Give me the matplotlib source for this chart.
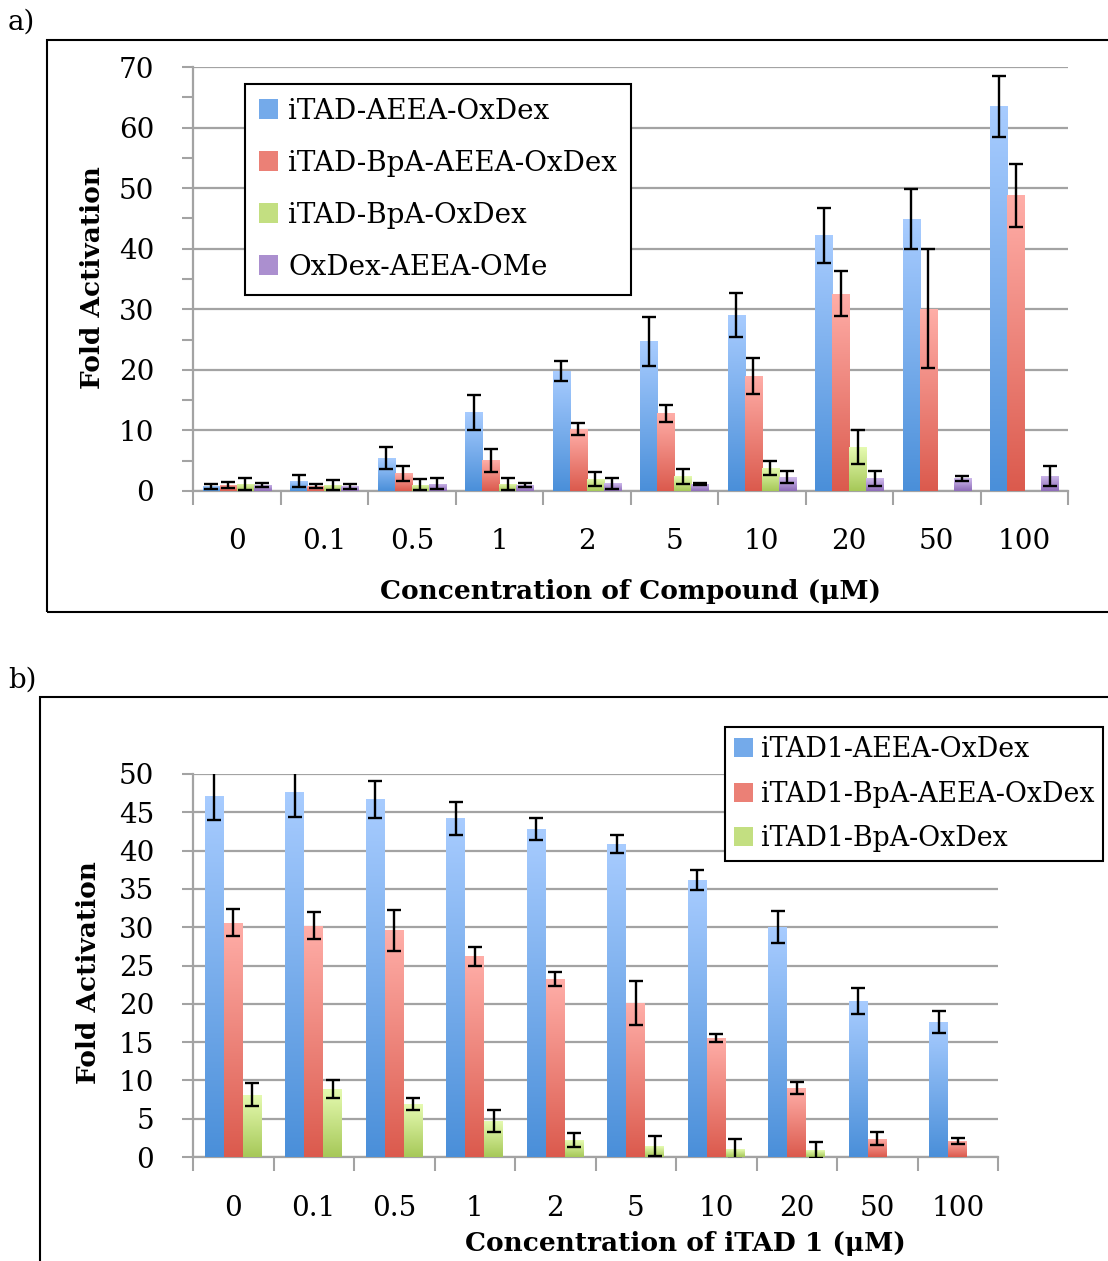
"""Fold activation bar charts (panels a and b), Excel-style gradient bars."""
import matplotlib

matplotlib.use("Agg")
import matplotlib.pyplot as plt
import numpy as np
from matplotlib.colors import LinearSegmentedColormap, to_rgb
from matplotlib.patches import Rectangle, Patch

plt.rcParams["font.family"] = ["DejaVu Serif"]

W, H = 1108, 1261

# ---- panel a data ----
conc_a = ["0", "0.1", "0.5", "1", "2", "5", "10", "20", "50", "100"]
a_names = ["iTAD-AEEA-OxDex", "iTAD-BpA-AEEA-OxDex", "iTAD-BpA-OxDex", "OxDex-AEEA-OMe"]
a_aeea = [0.8, 1.6, 5.4, 13.0, 19.8, 24.7, 29.1, 42.2, 44.9, 63.5]
a_aeea_err = [0.4, 1.0, 1.8, 2.9, 1.6, 4.0, 3.6, 4.5, 4.9, 5.0]
a_bpa_aeea = [1.0, 0.8, 2.9, 5.1, 10.2, 12.8, 19.0, 32.6, 30.1, 48.8]
a_bpa_aeea_err = [0.5, 0.3, 1.2, 1.9, 1.0, 1.4, 3.0, 3.7, 9.8, 5.2]
a_bpa = [1.2, 1.0, 1.0, 1.2, 2.0, 2.4, 3.8, 7.2, np.nan, np.nan]
a_bpa_err = [1.0, 0.8, 0.9, 1.0, 1.1, 1.2, 1.1, 2.8, np.nan, np.nan]
a_ome = [1.0, 0.8, 1.2, 1.0, 1.3, 1.2, 2.3, 2.1, 2.1, 2.5]
a_ome_err = [0.3, 0.4, 0.9, 0.3, 0.9, 0.2, 1.0, 1.2, 0.4, 1.7]

# ---- panel b data ----
conc_b = ["0", "0.1", "0.5", "1", "2", "5", "10", "20", "50", "100"]
b_names = ["iTAD1-AEEA-OxDex", "iTAD1-BpA-AEEA-OxDex", "iTAD1-BpA-OxDex"]
b_aeea = [47.1, 47.6, 46.7, 44.2, 42.8, 40.9, 36.2, 30.0, 20.4, 17.6]
b_aeea_err = [3.1, 3.2, 2.4, 2.1, 1.4, 1.2, 1.3, 2.1, 1.7, 1.4]
b_bpa_aeea = [30.6, 30.2, 29.6, 26.2, 23.2, 20.1, 15.5, 9.0, 2.4, 2.1]
b_bpa_aeea_err = [1.8, 1.8, 2.7, 1.2, 0.9, 2.9, 0.5, 0.8, 0.8, 0.4]
b_bpa = [8.1, 8.9, 6.9, 4.7, 2.2, 1.4, 1.0, 0.9, np.nan, np.nan]
b_bpa_err = [1.5, 1.2, 0.8, 1.4, 0.9, 1.3, 1.3, 1.0, np.nan, np.nan]

# gradient (top, bottom) per series
BLUE = ("#a8ccff", "#4a8fd9")
RED = ("#ffaea8", "#db5a4d")
GREEN = ("#e6fbb2", "#a6c858")
PURPLE = ("#cfbaec", "#8d6cb8")
GRID = "#a3a3a3"
FS = 20
FS_BOLD = 19


def fx(px):
    return px / W


def fy(py):
    return 1 - py / H


def mid(colors):
    a, b = np.array(to_rgb(colors[0])), np.array(to_rgb(colors[1]))
    return tuple(0.45 * a + 0.55 * b)


def gradient_bars(ax, x, heights, width, colors):
    top, bottom = colors
    cmap = LinearSegmentedColormap.from_list("g", [bottom, top])
    grad = np.linspace(0, 1, 256).reshape(-1, 1)
    h = np.nan_to_num(np.asarray(heights, float))
    bars = ax.bar(x, h, width, color="none", edgecolor="none", zorder=3)
    for b in bars:
        if b.get_height() <= 0:
            continue
        x0, w, hh = b.get_x(), b.get_width(), b.get_height()
        im = ax.imshow(grad, extent=(x0, x0 + w, 0, hh), origin="lower",
                       cmap=cmap, aspect="auto", zorder=3, interpolation="bilinear")
        im.set_clip_path(b)
    return bars


def style_axes(ax, labels, ymax, ystep, minor=None):
    n = len(labels)
    ax.set_xlim(-0.5, n - 0.5)
    ax.set_ylim(0, ymax)
    ax.set_yticks(np.arange(0, ymax + 0.1, ystep))
    if minor:
        ax.set_yticks(np.arange(0, ymax + 0.1, minor), minor=True)
    ax.yaxis.grid(True, color=GRID, lw=1.6, zorder=0)
    ax.set_axisbelow(True)
    ax.set_xticks(np.arange(-0.5, n, 1.0))
    ax.set_xticklabels([])
    ax.set_xticks(np.arange(n), minor=True)
    ax.set_xticklabels(labels, minor=True)
    ax.tick_params(axis="x", which="major", direction="out", length=10, width=1.5, color=GRID)
    ax.tick_params(axis="x", which="minor", length=0, pad=27, labelsize=FS)
    ax.tick_params(axis="y", which="both", direction="out", width=1.5, color=GRID,
                   labelsize=FS, pad=20, length=8)
    for s in ("top", "right"):
        ax.spines[s].set_visible(False)
    for s in ("left", "bottom"):
        ax.spines[s].set_color(GRID)
        ax.spines[s].set_linewidth(1.6)


def errbars(ax, x, v, e):
    ax.errorbar(x, v, yerr=e, fmt="none", ecolor="black", elinewidth=1.7,
                capsize=5, capthick=1.7, zorder=5)


fig = plt.figure(figsize=(W / 100, H / 100), dpi=100)

# ---------------- panel a ----------------
ax1 = fig.add_axes([fx(193), fy(491), fx(1068) - fx(193), fy(67) - fy(491)])
xa = np.arange(len(conc_a))
bw = 0.195
series_a = [(a_aeea, a_aeea_err, BLUE), (a_bpa_aeea, a_bpa_aeea_err, RED),
            (a_bpa, a_bpa_err, GREEN), (a_ome, a_ome_err, PURPLE)]
for i, (v, e, c) in enumerate(series_a):
    xs = xa + (i - 1.5) * bw
    gradient_bars(ax1, xs, v, bw, c)
    errbars(ax1, xs, v, e)
style_axes(ax1, conc_a, 70, 10, minor=5)
handles = [Patch(facecolor=mid(c), edgecolor="none") for _, _, c in series_a]
leg = ax1.legend(handles, a_names, loc="upper left",
                 bbox_to_anchor=((245 - 193) / 875, (491 - 84) / 424),
                 borderaxespad=0, fontsize=FS, handlelength=0.7, handleheight=0.7,
                 handletextpad=0.35, labelspacing=0.9, borderpad=0.5,
                 fancybox=False, framealpha=1, edgecolor="black")
leg.get_frame().set_linewidth(1.5)
leg.set_zorder(10)

fig.text(fx(92), fy(278), "Fold Activation", rotation=90, ha="center", va="center",
         fontsize=FS_BOLD, fontweight="bold")
fig.text(fx(630), fy(592), "Concentration of Compound (\u03bcM)", ha="center",
         va="center", fontsize=FS_BOLD, fontweight="bold")
fig.text(fx(8), fy(22), "a)", ha="left", va="center", fontsize=FS)
fig.add_artist(Rectangle((fx(47), fy(612)), fx(1130) - fx(47), fy(40) - fy(612),
                         transform=fig.transFigure, fill=False, ec="black", lw=1.5))

# ---------------- panel b ----------------
ax2 = fig.add_axes([fx(193), fy(1157), fx(998) - fx(193), fy(774) - fy(1157)])
xb = np.arange(len(conc_b))
bw2 = 0.236
series_b = [(b_aeea, b_aeea_err, BLUE), (b_bpa_aeea, b_bpa_aeea_err, RED),
            (b_bpa, b_bpa_err, GREEN)]
for i, (v, e, c) in enumerate(series_b):
    xs = xb + (i - 1) * bw2
    gradient_bars(ax2, xs, v, bw2, c)
    errbars(ax2, xs, v, e)
style_axes(ax2, conc_b, 50, 5)
handles = [Patch(facecolor=mid(c), edgecolor="none") for _, _, c in series_b]
leg2 = fig.legend(handles, b_names, loc="upper left",
                  bbox_to_anchor=(fx(725), fy(727)), bbox_transform=fig.transFigure,
                  borderaxespad=0, fontsize=19.3, handlelength=0.7, handleheight=0.7,
                  handletextpad=0.3, labelspacing=0.66, borderpad=0.33,
                  fancybox=False, framealpha=1, edgecolor="black")
leg2.get_frame().set_linewidth(1.5)

fig.text(fx(88), fy(973), "Fold Activation", rotation=90, ha="center", va="center",
         fontsize=FS_BOLD, fontweight="bold")
fig.text(fx(685), fy(1244), "Concentration of iTAD 1 (\u03bcM)", ha="center",
         va="center", fontsize=FS_BOLD, fontweight="bold")
fig.text(fx(8), fy(680), "b)", ha="left", va="center", fontsize=FS)
fig.add_artist(Rectangle((fx(40), fy(1300)), fx(1130) - fx(40), fy(697) - fy(1300),
                         transform=fig.transFigure, fill=False, ec="black", lw=1.5))

fig.savefig("out.png", dpi=100)
